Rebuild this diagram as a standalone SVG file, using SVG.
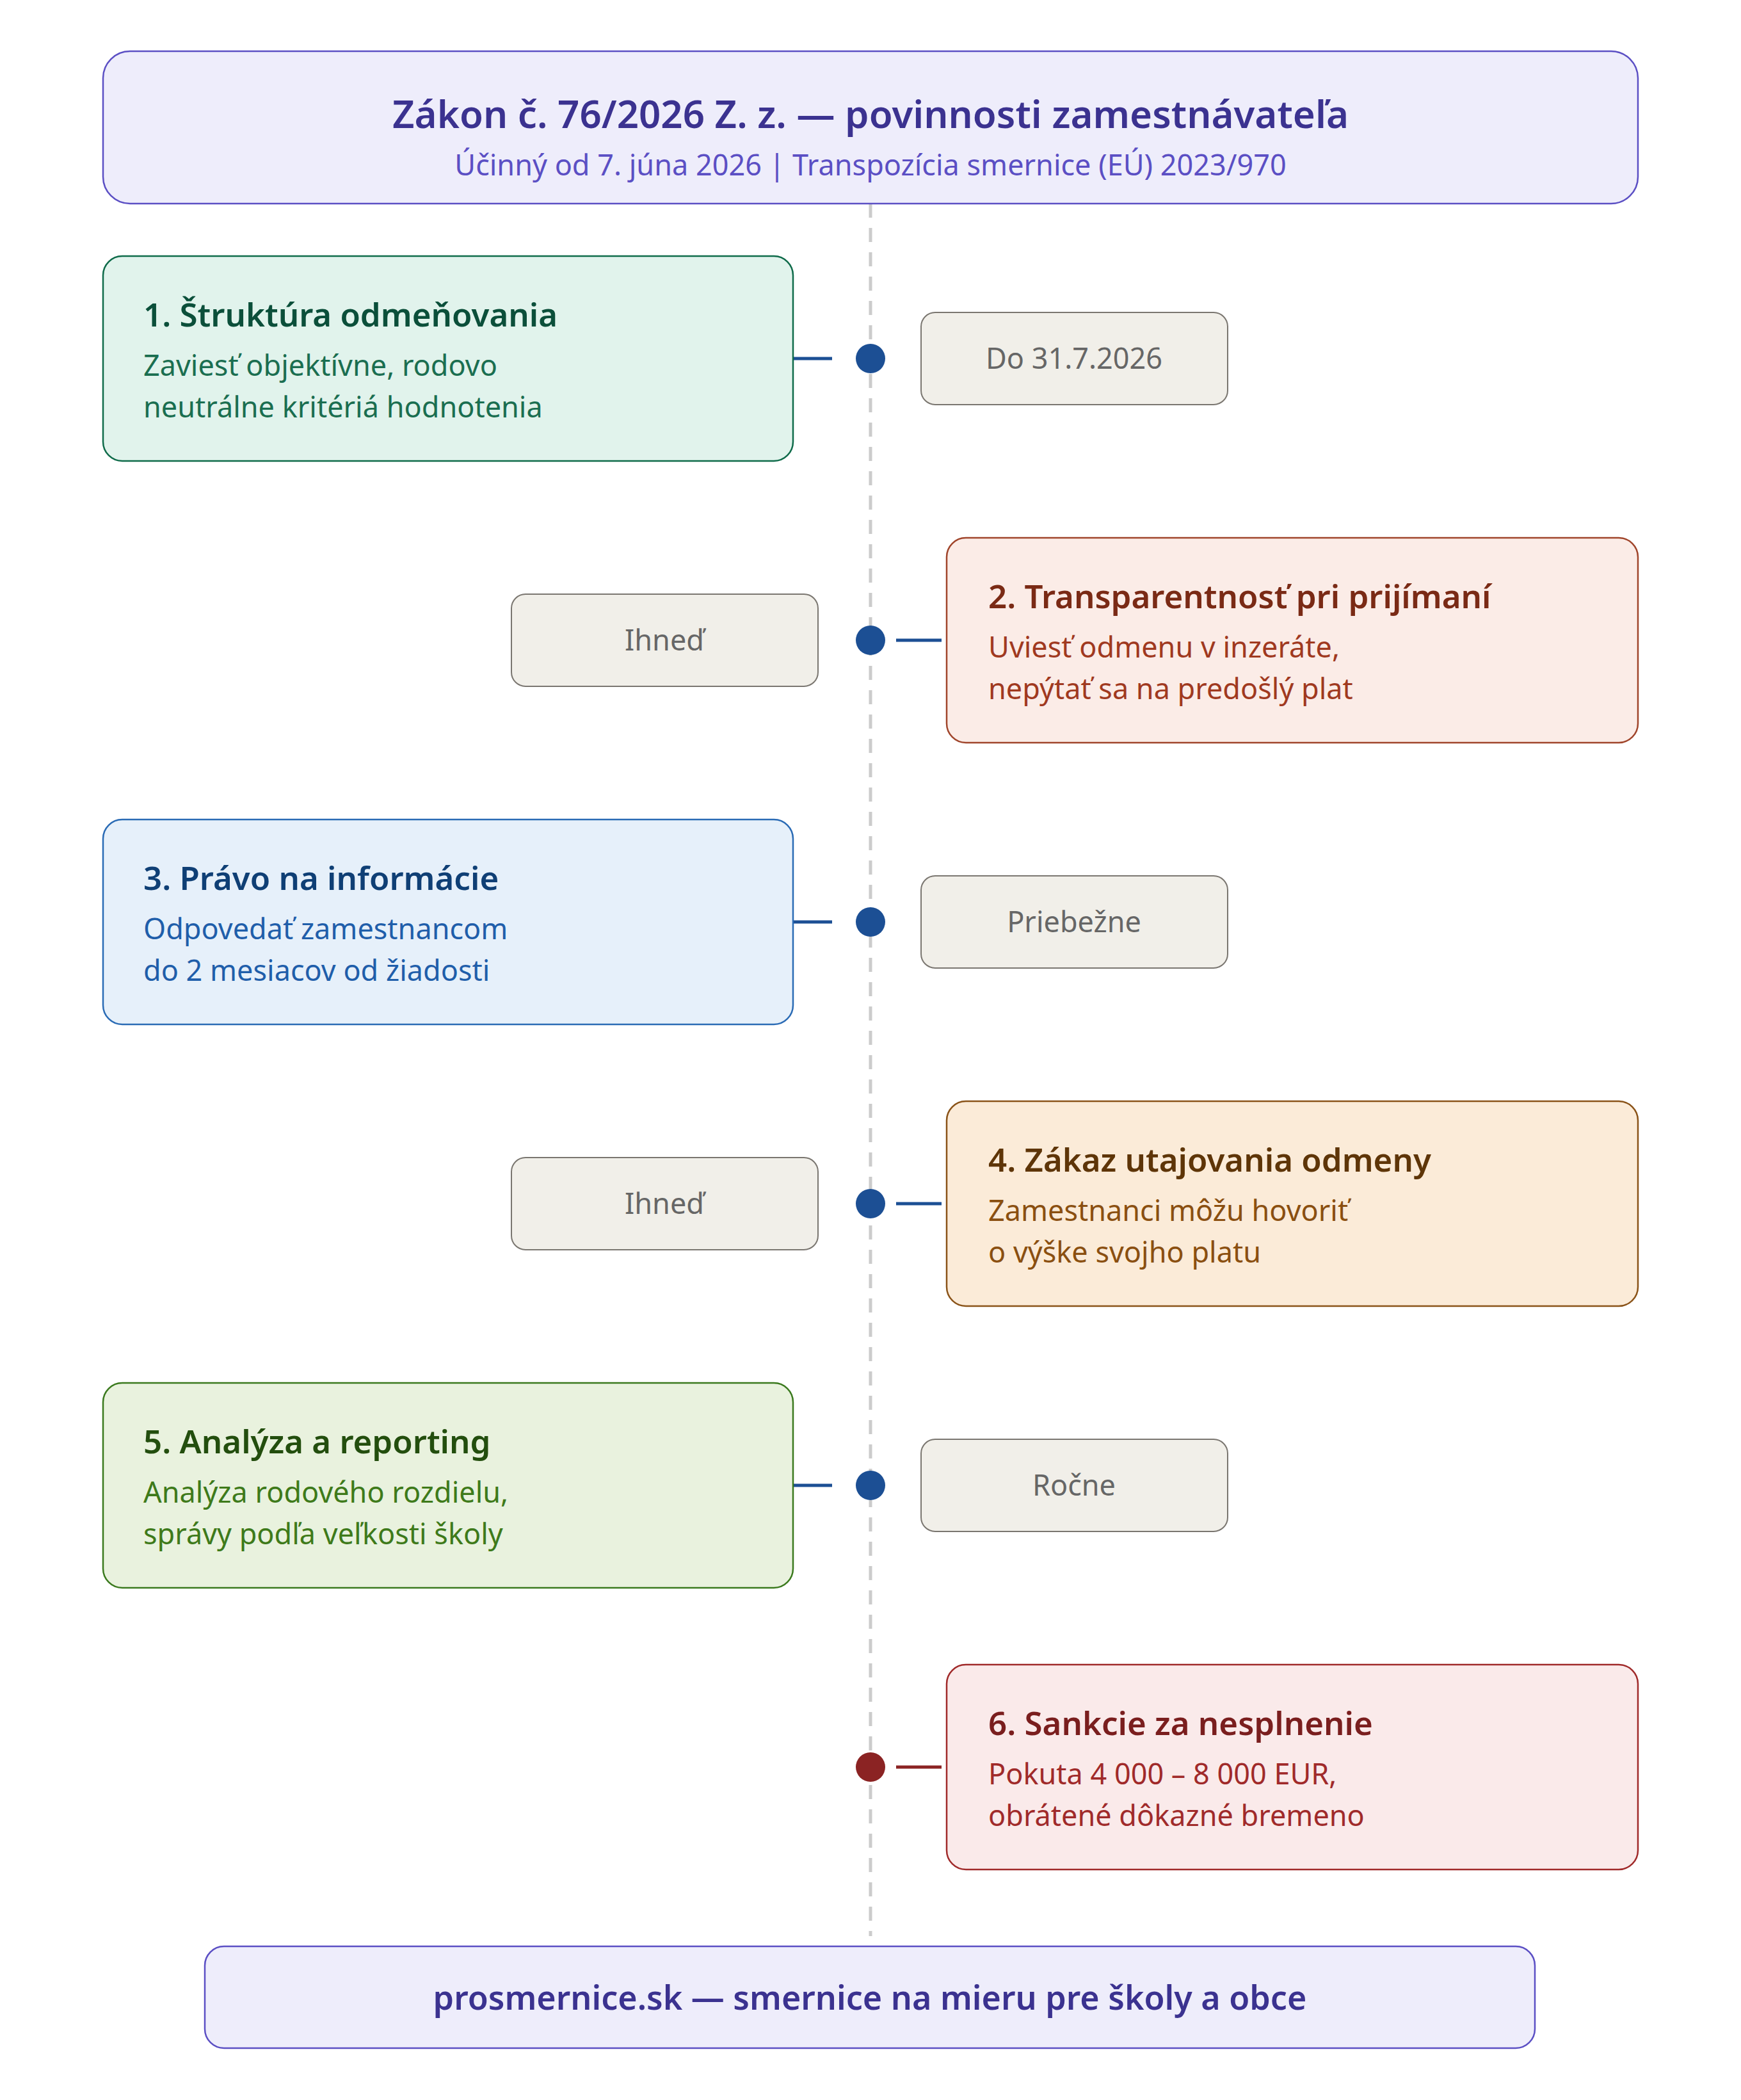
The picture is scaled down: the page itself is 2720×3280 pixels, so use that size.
<svg xmlns="http://www.w3.org/2000/svg" width="2720" height="3280" viewBox="0 0 2720 3280">
<style>
text{font-family:"Noto Sans","Open Sans","DejaVu Sans",sans-serif}
.t{font-size:51px;font-weight:600}
.b{font-size:45px}
.d{font-size:45px;fill:#666;text-anchor:middle}
.db{fill:#F1EFE9;stroke:#7A7670;stroke-width:2}
</style>
<rect width="2720" height="3280" fill="#fff"/>
<g id="connectors">
<line x1="1360" y1="318" x2="1360" y2="3024" stroke="#CCCCCC" stroke-width="5" stroke-dasharray="22 16"/>
<g stroke="#1C4F94" stroke-width="5">
<line x1="1240" y1="560" x2="1300" y2="560"/>
<line x1="1400" y1="1000" x2="1471" y2="1000"/>
<line x1="1240" y1="1440" x2="1300" y2="1440"/>
<line x1="1400" y1="1880" x2="1471" y2="1880"/>
<line x1="1240" y1="2320" x2="1300" y2="2320"/>
</g>
<line x1="1400" y1="2760" x2="1471" y2="2760" stroke="#8B2323" stroke-width="5"/>
<g fill="#1C4F94">
<circle cx="1360" cy="560" r="23"/><circle cx="1360" cy="1000" r="23"/><circle cx="1360" cy="1440" r="23"/><circle cx="1360" cy="1880" r="23"/><circle cx="1360" cy="2320" r="23"/>
</g>
<circle cx="1360" cy="2760" r="23" fill="#8B2323"/>
</g>
<g id="header">
<rect x="161" y="80" width="2398" height="238" rx="42" fill="#EEEDFB" stroke="#5B4FC4" stroke-width="2.5"/>
<text x="1360" y="200" text-anchor="middle" font-size="60" font-weight="600" fill="#3B3290">Zákon č. 76/2026 Z. z. — povinnosti zamestnávateľa</text>
<text x="1360" y="274" text-anchor="middle" font-size="45" fill="#5B4FC4">Účinný od 7. júna 2026 | Transpozícia smernice (EÚ) 2023/970</text>
</g>
<g id="n1">
<rect x="161" y="400" width="1078" height="320" rx="30" fill="#E1F3EC" stroke="#0F6B4A" stroke-width="2.5"/>
<text x="224" y="510" class="t" fill="#0B4F3A">1. Štruktúra odmeňovania</text>
<text x="224" y="587" class="b" fill="#1A6E50">Zaviesť objektívne, rodovo</text>
<text x="224" y="652" class="b" fill="#1A6E50">neutrálne kritériá hodnotenia</text>
</g>
<g id="d1"><rect x="1439" y="488" width="479" height="144" rx="22" class="db"/><text x="1678" y="576" class="d">Do 31.7.2026</text></g>
<g id="n2">
<rect x="1479" y="840" width="1080" height="320" rx="30" fill="#FBECE7" stroke="#A0452B" stroke-width="2.5"/>
<text x="1544" y="950" class="t" fill="#7A2A15">2. Transparentnosť pri prijímaní</text>
<text x="1544" y="1027" class="b" fill="#A0391F">Uviesť odmenu v inzeráte,</text>
<text x="1544" y="1092" class="b" fill="#A0391F">nepýtať sa na predošlý plat</text>
</g>
<g id="d2"><rect x="799" y="928" width="479" height="144" rx="22" class="db"/><text x="1038" y="1016" class="d">Ihneď</text></g>
<g id="n3">
<rect x="161" y="1280" width="1078" height="320" rx="30" fill="#E6F0FA" stroke="#2A6BB5" stroke-width="2.5"/>
<text x="224" y="1390" class="t" fill="#0F3F75">3. Právo na informácie</text>
<text x="224" y="1467" class="b" fill="#1F5EAA">Odpovedať zamestnancom</text>
<text x="224" y="1532" class="b" fill="#1F5EAA">do 2 mesiacov od žiadosti</text>
</g>
<g id="d3"><rect x="1439" y="1368" width="479" height="144" rx="22" class="db"/><text x="1678" y="1456" class="d">Priebežne</text></g>
<g id="n4">
<rect x="1479" y="1720" width="1080" height="320" rx="30" fill="#FBEBD8" stroke="#8A5318" stroke-width="2.5"/>
<text x="1544" y="1830" class="t" fill="#5E3508">4. Zákaz utajovania odmeny</text>
<text x="1544" y="1907" class="b" fill="#8A4F10">Zamestnanci môžu hovoriť</text>
<text x="1544" y="1972" class="b" fill="#8A4F10">o výške svojho platu</text>
</g>
<g id="d4"><rect x="799" y="1808" width="479" height="144" rx="22" class="db"/><text x="1038" y="1896" class="d">Ihneď</text></g>
<g id="n5">
<rect x="161" y="2160" width="1078" height="320" rx="30" fill="#E9F2DE" stroke="#3B7A1E" stroke-width="2.5"/>
<text x="224" y="2270" class="t" fill="#234E0E">5. Analýza a reporting</text>
<text x="224" y="2347" class="b" fill="#3E7A1A">Analýza rodového rozdielu,</text>
<text x="224" y="2412" class="b" fill="#3E7A1A">správy podľa veľkosti školy</text>
</g>
<g id="d5"><rect x="1439" y="2248" width="479" height="144" rx="22" class="db"/><text x="1678" y="2336" class="d">Ročne</text></g>
<g id="n6">
<rect x="1479" y="2600" width="1080" height="320" rx="30" fill="#FAEAEA" stroke="#A02A2A" stroke-width="2.5"/>
<text x="1544" y="2710" class="t" fill="#7A1E1E">6. Sankcie za nesplnenie</text>
<text x="1544" y="2787" class="b" fill="#A02A2A">Pokuta 4 000 – 8 000 EUR,</text>
<text x="1544" y="2852" class="b" fill="#A02A2A">obrátené dôkazné bremeno</text>
</g>
<g id="footer">
<rect x="320" y="3040" width="2078" height="159" rx="30" fill="#EEEDFB" stroke="#5B4FC4" stroke-width="2.5"/>
<text x="1359" y="3139" text-anchor="middle" font-size="52" font-weight="600" fill="#3B3290">prosmernice.sk — smernice na mieru pre školy a obce</text>
</g>
</svg>
